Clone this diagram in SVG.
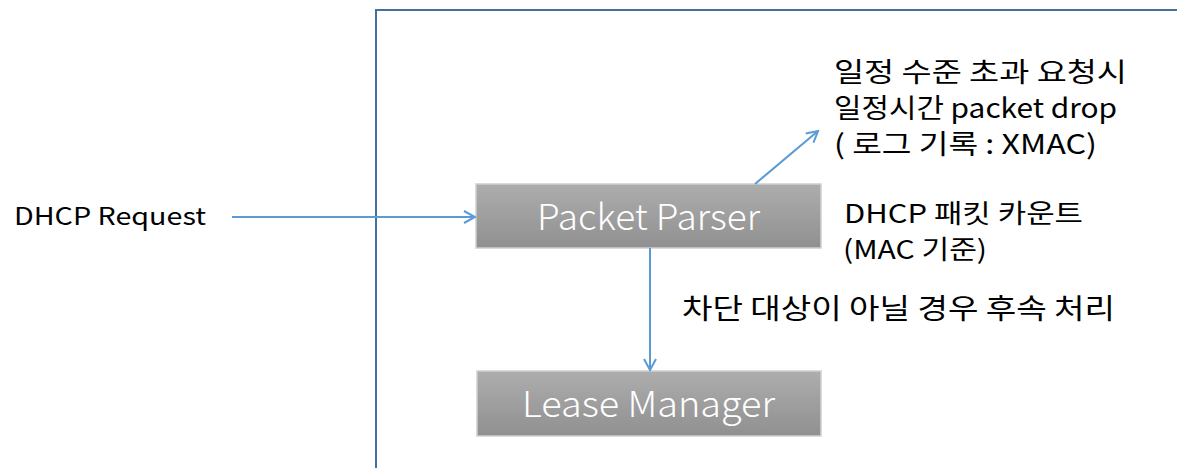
<svg xmlns="http://www.w3.org/2000/svg" width="1177" height="468" viewBox="0 0 1177 468">
<defs>
<linearGradient id="g" x1="0" y1="0" x2="0" y2="1">
<stop offset="0" stop-color="#adadad"/>
<stop offset="1" stop-color="#909090"/>
</linearGradient>
<marker id="a" markerWidth="14" markerHeight="14" refX="12" refY="7" orient="auto" markerUnits="userSpaceOnUse">
<path d="M1,1 L12,7 L1,13" fill="none" stroke="#5b9bd5" stroke-width="2"/>
</marker>
<style>
.box{fill:url(#g);stroke:#d0d0d0;stroke-width:1.5}
.bt{font-family:"Noto Sans CJK KR","Noto Sans",sans-serif;font-size:36px;font-weight:300;fill:#fff}
.t{font-family:"Noto Sans CJK KR","Noto Sans",sans-serif;font-size:27px;fill:#000}
.s{font-size:26px}
.r{font-size:24px}
.b{font-size:28px}
.c{stroke:#5b9bd5;stroke-width:2;fill:none;marker-end:url(#a)}
</style>
</defs>
<rect width="1177" height="468" fill="#fff"/>
<path d="M376,468 V10 H1177" fill="none" stroke="#41719c" stroke-width="2"/>
<g id="packet-parser">
<rect class="box" x="476" y="184" width="345" height="64"/>
<text class="bt" x="537" y="230" textLength="223" lengthAdjust="spacingAndGlyphs">Packet Parser</text>
</g>
<g id="lease-manager">
<rect class="box" x="477" y="371" width="344" height="65"/>
<text class="bt" x="522" y="417" textLength="253" lengthAdjust="spacingAndGlyphs">Lease Manager</text>
</g>
<g id="labels">
<text class="t r" x="14" y="225" textLength="192" lengthAdjust="spacingAndGlyphs">DHCP Request</text>
<text class="t" x="834" y="82" textLength="293" lengthAdjust="spacingAndGlyphs">일정 수준 초과 요청시</text>
<text class="t" x="834" y="118" textLength="283" lengthAdjust="spacingAndGlyphs">일정시간 packet drop</text>
<text class="t" x="834" y="154" textLength="263" lengthAdjust="spacingAndGlyphs">( 로그 기록 : XMAC)</text>
<text class="t s" x="844" y="223" textLength="239" lengthAdjust="spacingAndGlyphs">DHCP 패킷 카운트</text>
<text class="t s" x="843" y="259" textLength="144" lengthAdjust="spacingAndGlyphs">(MAC 기준)</text>
<text class="t b" x="682" y="319" textLength="433" lengthAdjust="spacingAndGlyphs">차단 대상이 아닐 경우 후속 처리</text>
</g>
<g id="connectors">
<line class="c" x1="232" y1="217" x2="475" y2="217"/>
<line class="c" x1="650" y1="248" x2="650" y2="370"/>
<line class="c" x1="755" y1="184" x2="818" y2="131"/>
</g>
</svg>
